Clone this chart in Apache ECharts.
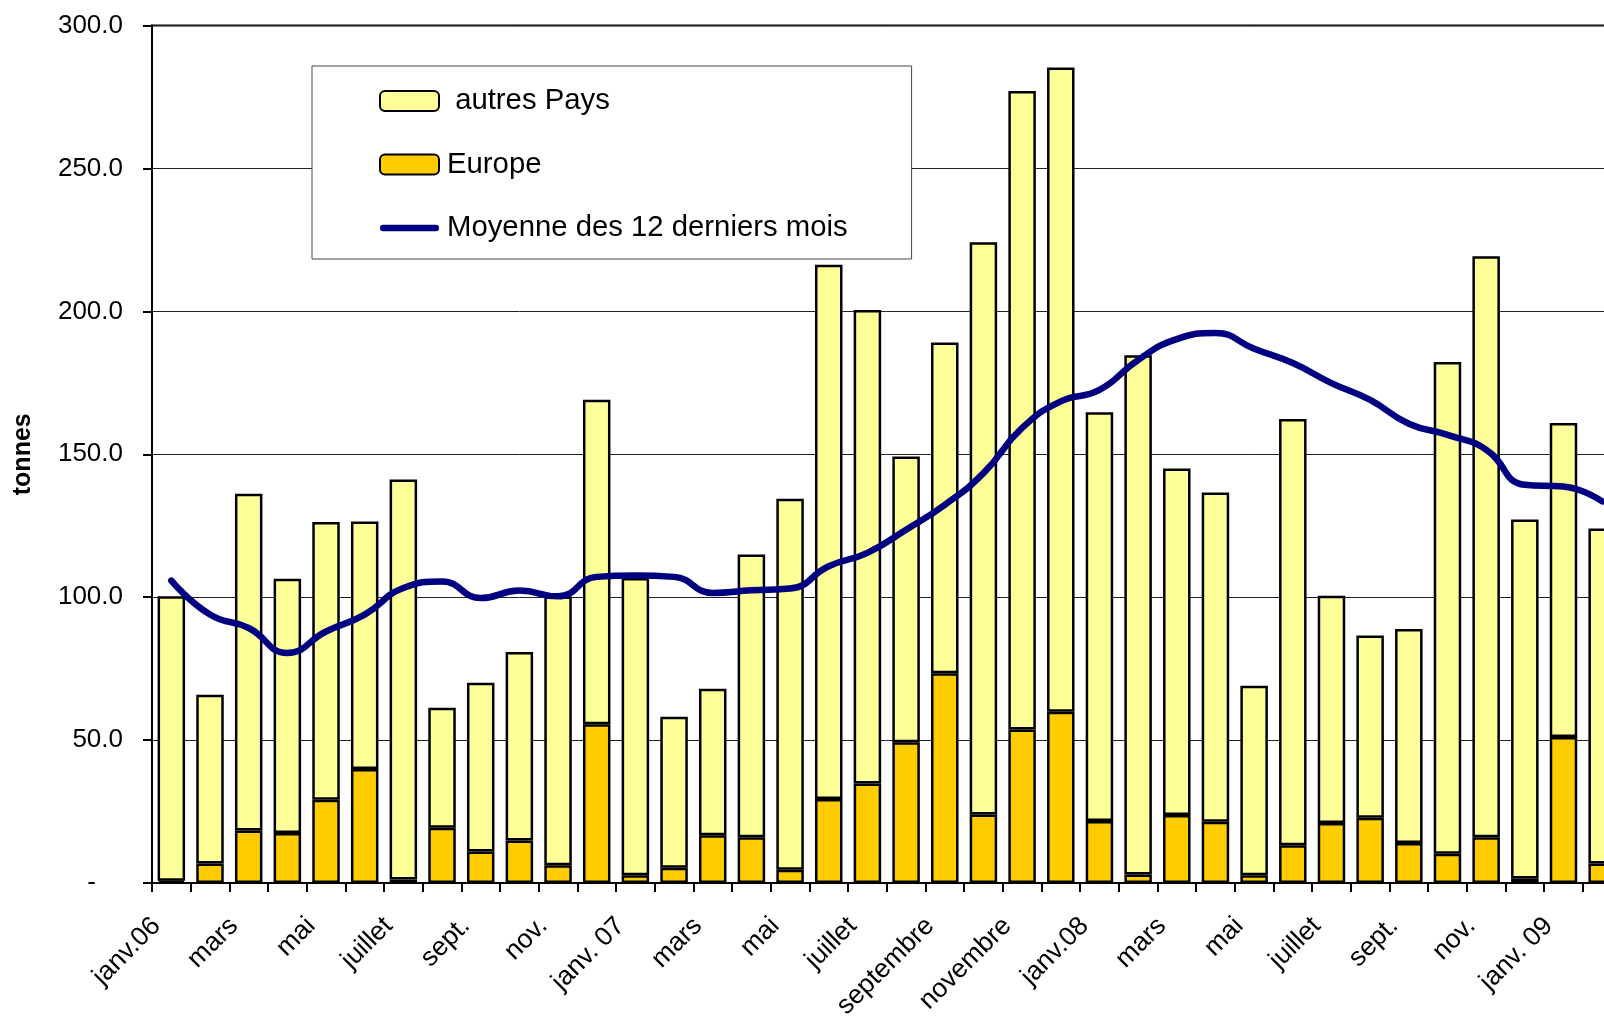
<!DOCTYPE html>
<html>
<head>
<meta charset="utf-8">
<script src="https://cdn.jsdelivr.net/npm/echarts@6/dist/echarts.min.js"></script>
<style>
html,body{margin:0;padding:0;background:#fff;overflow:hidden;}
#chart{width:1700px;height:1100px;}
</style>
</head>
<body>
<div id="chart"></div>
<script>
// Month categories (only every other label is shown on the axis)
const months = [
  'janv.06','févr.','mars','avril','mai','juin','juillet','août','sept.','oct.','nov.','déc.',
  'janv. 07','févr.','mars','avril','mai','juin','juillet','août','septembre','octobre','novembre','décembre',
  'janv.08','févr.','mars','avril','mai','juin','juillet','août','sept.','oct.','nov.','déc.',
  'janv. 09','févr.'
];
// Europe (tonnes)
const europe = [
  0.8, 6.8, 18.4, 17.5, 29.1, 39.9, 1.2, 19.3, 11.0, 14.9, 6.2, 55.5,
  2.7, 5.3, 16.7, 16.0, 4.6, 29.4, 34.8, 49.2, 73.4, 24.0, 53.7, 59.9,
  21.7, 3.0, 23.8, 21.4, 2.7, 13.2, 21.0, 22.8, 14.0, 10.2, 16.0, 1.6,
  51.1, 6.8
];
// autres Pays (tonnes)
const autresPays = [
  99.5, 59.1, 117.8, 88.9, 97.2, 86.6, 140.0, 42.0, 59.1, 65.9, 94.0, 113.6,
  104.0, 52.9, 51.3, 98.9, 129.8, 186.9, 165.7, 100.0, 115.7, 200.2, 223.4, 225.4,
  143.0, 181.6, 121.2, 115.2, 66.3, 149.1, 79.5, 63.8, 74.9, 172.1, 203.3, 125.6,
  109.8, 117.2
];
// Moyenne des 12 derniers mois
const moyenne = [
  105.8, 93.9, 89.2, 80.5, 88.0, 93.9, 103.2, 105.5, 99.7, 102.3, 100.3, 107.1,
  107.6, 107.1, 101.5, 102.4, 103.0, 110.8, 115.5, 123.6, 132.3, 143.4, 159.2, 168.5,
  172.5, 183.0, 190.3, 192.4, 186.9, 181.9, 174.9, 169.0, 160.7, 156.8, 151.6, 139.3,
  138.7, 133.5
];
const yTicks = { min: 0, max: 300, interval: 50 };

const FONT = '"Liberation Sans", Arial, sans-serif';
const chart = echarts.init(document.getElementById('chart'), null, { renderer: 'canvas' });

const option = {
  animation: false,
  backgroundColor: '#fff',
  textStyle: { fontFamily: FONT, color: '#000' },
  grid: {
    left: 152, top: 25.5, width: 1469.5, height: 857.5,
    containLabel: false,
    outerBoundsMode: 'none',
    show: true, borderColor: '#000', borderWidth: 2, backgroundColor: 'transparent'
  },
  legend: {
    orient: 'vertical',
    left: 312, top: 66,
    padding: [20, 64, 16, 67],
    itemGap: 33.5,
    itemWidth: 59, itemHeight: 20,
    symbolKeepAspect: true,
    backgroundColor: '#fff',
    borderColor: '#444', borderWidth: 1,
    textStyle: { fontFamily: FONT, fontSize: 29.3, color: '#000', lineHeight: 30, padding: [0, 0, 0, 3] },
    formatter: n => n === 'autres Pays' ? ' ' + n : n,
    data: [
      { name: 'autres Pays' },
      { name: 'Europe' },
      { name: 'Moyenne des 12 derniers mois',
        icon: 'path://M3.5,0 L59.5,0 A3.5,3.5 0 0 1 59.5,7 L3.5,7 A3.5,3.5 0 0 1 3.5,0 Z',
        itemStyle: { color: '#000080', borderWidth: 0 } }
    ]
  },
  xAxis: {
    type: 'category',
    data: months,
    boundaryGap: true,
    axisLine: { lineStyle: { color: '#000', width: 2 } },
    axisTick: { show: true, interval: 0, length: 9, inside: false, lineStyle: { color: '#000', width: 2 } },
    axisLabel: {
      interval: 1, rotate: 45, margin: 24, padding: [0, 21, 0, 0],
      fontFamily: FONT, fontSize: 26.5, color: '#000'
    },
    splitLine: { show: false }
  },
  yAxis: {
    type: 'value',
    min: yTicks.min, max: yTicks.max, interval: yTicks.interval,
    name: 'tonnes',
    nameLocation: 'middle',
    nameGap: 116,
    nameRotate: 90,
    nameMoveOverlap: false,
    nameTextStyle: { fontFamily: FONT, fontSize: 25, fontWeight: 'bold', color: '#000' },
    axisLine: { show: true, lineStyle: { color: '#000', width: 2 } },
    axisTick: { show: true, length: 9, lineStyle: { color: '#000', width: 2 } },
    axisLabel: {
      margin: 29, fontFamily: FONT, fontSize: 26, color: '#000',
      formatter: v => v === 0 ? '{z|-}' : v.toFixed(1),
      rich: { z: { fontFamily: FONT, fontSize: 26, color: '#000', padding: [0, 27, 0, 0] } }
    },
    splitLine: { show: true, lineStyle: { color: '#222', width: 1 } }
  },
  series: [
    {
      name: 'Europe', type: 'bar', stack: 'total', data: europe,
      barWidth: 27.5,
      itemStyle: { color: '#FFCC00', borderColor: '#000', borderWidth: 2.5 },
      z: 2
    },
    {
      name: 'autres Pays', type: 'bar', stack: 'total', data: autresPays,
      barWidth: 27.5,
      itemStyle: { color: '#FFFF99', borderColor: '#000', borderWidth: 2.5 },
      z: 2
    },
    {
      name: 'Moyenne des 12 derniers mois', type: 'line', data: moyenne,
      smooth: 0.5, symbol: 'none', showSymbol: false,
      lineStyle: { color: '#000080', width: 6.5, cap: 'round', join: 'round' },
      itemStyle: { color: '#000080' },
      z: 5
    }
  ]
};
chart.setOption(option);
</script>
</body>
</html>
